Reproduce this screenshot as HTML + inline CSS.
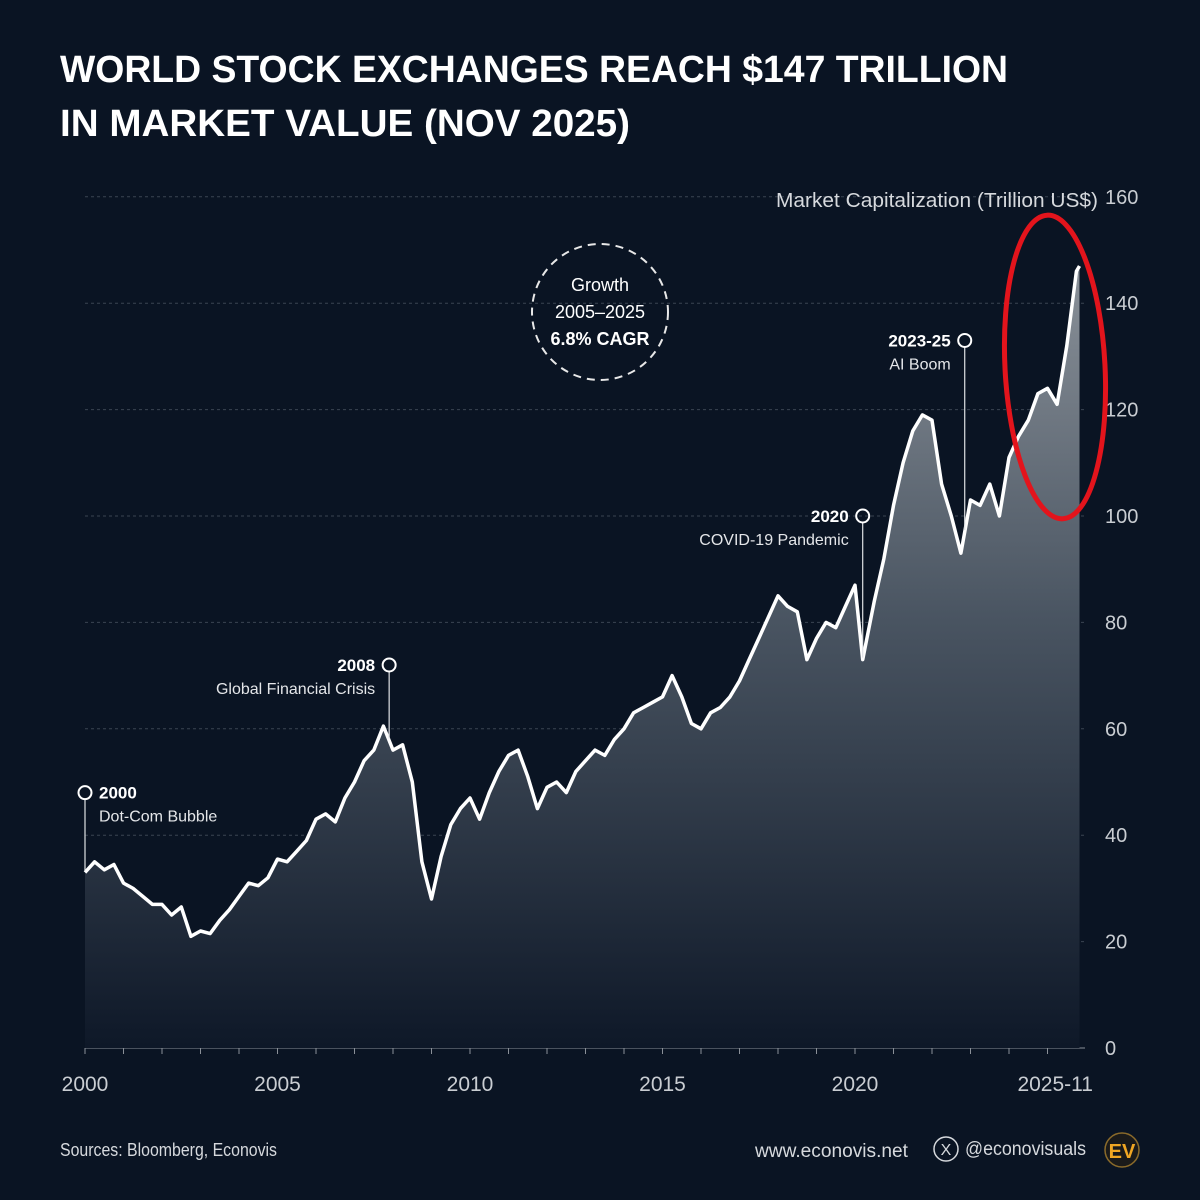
<!DOCTYPE html>
<html><head><meta charset="utf-8"><style>
html,body{margin:0;padding:0;background:#0a1322;}
svg{display:block;font-family:"Liberation Sans",sans-serif;}
</style></head><body>
<svg id="chart" width="1200" height="1200" viewBox="0 0 1200 1200">
<defs>
<linearGradient id="areaGrad" gradientUnits="userSpaceOnUse" x1="0" y1="260" x2="0" y2="1048">
<stop offset="0" stop-color="#8b929a"/>
<stop offset="0.45" stop-color="#4a5562"/>
<stop offset="1" stop-color="#0e1828"/>
</linearGradient>
</defs>
<rect x="0" y="0" width="1200" height="1200" fill="#0a1423"/>
<text x="60" y="82" fill="#ffffff" font-size="38" font-weight="bold" textLength="948" lengthAdjust="spacingAndGlyphs">WORLD STOCK EXCHANGES REACH $147 TRILLION</text>
<text x="60" y="136" fill="#ffffff" font-size="38" font-weight="bold" textLength="570" lengthAdjust="spacingAndGlyphs">IN MARKET VALUE (NOV 2025)</text>
<g id="grid"></g>
<g id="area"></g>
<g id="annot"></g>
<text x="1098" y="207" fill="#d6d9dd" font-size="20" text-anchor="end" textLength="322" lengthAdjust="spacingAndGlyphs">Market Capitalization (Trillion US$)</text>
<g>
<circle cx="600" cy="312" r="68" fill="none" stroke="#e8e8e8" stroke-width="2" stroke-dasharray="8 6"/>
<text x="600" y="291" fill="#fff" font-size="18" text-anchor="middle">Growth</text>
<text x="600" y="318" fill="#fff" font-size="18" text-anchor="middle">2005–2025</text>
<text x="600" y="345" fill="#fff" font-size="18" font-weight="bold" text-anchor="middle">6.8% CAGR</text>
</g>
<ellipse cx="1055" cy="367" rx="50" ry="152" fill="none" stroke="#e3141c" stroke-width="5" transform="rotate(-3 1055 367)"/>
<text x="60" y="1156" fill="#d6d9dd" font-size="18" textLength="217" lengthAdjust="spacingAndGlyphs">Sources: Bloomberg, Econovis</text>
<text x="755" y="1157" fill="#d6d9dd" font-size="19" textLength="153" lengthAdjust="spacingAndGlyphs">www.econovis.net</text>
<g>
<circle cx="946" cy="1149" r="12" fill="none" stroke="#d6d9dd" stroke-width="1.5"/>
<text x="946" y="1155" fill="#d6d9dd" font-size="16" text-anchor="middle">X</text>
</g>
<text x="965" y="1155" fill="#d6d9dd" font-size="19" textLength="121" lengthAdjust="spacingAndGlyphs">@econovisuals</text>
<g>
<circle cx="1122" cy="1150" r="17" fill="#1a1a1a" stroke="#8a6a2a" stroke-width="1.5"/>
<text x="1122" y="1158" fill="#f0a623" font-size="20" font-weight="bold" text-anchor="middle">EV</text>
</g>
</svg>
<script>
const years = [2000,2000.25,2000.5,2000.75,2001,2001.25,2001.5,2001.75,2002,2002.25,2002.5,2002.75,2003,2003.25,2003.5,2003.75,2004,2004.25,2004.5,2004.75,2005,2005.25,2005.5,2005.75,2006,2006.25,2006.5,2006.75,2007,2007.25,2007.5,2007.75,2008,2008.25,2008.5,2008.75,2009,2009.25,2009.5,2009.75,2010,2010.25,2010.5,2010.75,2011,2011.25,2011.5,2011.75,2012,2012.25,2012.5,2012.75,2013,2013.25,2013.5,2013.75,2014,2014.25,2014.5,2014.75,2015,2015.25,2015.5,2015.75,2016,2016.25,2016.5,2016.75,2017,2017.25,2017.5,2017.75,2018,2018.25,2018.5,2018.75,2019,2019.25,2019.5,2019.75,2020,2020.2,2020.5,2020.75,2021,2021.25,2021.5,2021.75,2022,2022.25,2022.5,2022.75,2023,2023.25,2023.5,2023.75,2024,2024.25,2024.5,2024.75,2025,2025.25,2025.5,2025.75,2025.83];
const values = [33,35,33.5,34.5,31,30,28.5,27,27,25,26.5,21,22,21.5,24,26,28.5,31,30.5,32,35.5,35,37,39,43,44,42.5,47,50,54,56,60.5,56,57,50,35,28,36,42,45,47,43,48,52,55,56,51,45,49,50,48,52,54,56,55,58,60,63,64,65,66,70,66,61,60,63,64,66,69,73,77,81,85,83,82,73,77,80,79,83,87,73,84,92,102,110,116,119,118,106,100,93,103,102,106,100,111,115,118,123,124,121,132,146,147];
const yTicks = [0,20,40,60,80,100,120,140,160];
const xTickLabels = ["2000","2005","2010","2015","2020","2025-11"];
const xTickYears = [2000,2005,2010,2015,2020,2025.2];
const annYears = [2000,2007.9,2020.2,2022.85];
const annTitles = ["2000","2008","2020","2023-25"];
const annSubs = ["Dot-Com Bubble","Global Financial Crisis","COVID-19 Pandemic","AI Boom"];
const annLevels = [48,72,100,133];

const NS="http://www.w3.org/2000/svg";
const X = y => 85 + (y-2000)*38.5;
const Y = v => 1048 - v*5.32;
function mk(tag, attrs, parent){const e=document.createElementNS(NS,tag);for(const k in attrs)e.setAttribute(k,attrs[k]);parent.appendChild(e);return e;}
const grid=document.getElementById('grid'), area=document.getElementById('area'), annot=document.getElementById('annot');
yTicks.forEach(t=>{
  const l=mk('line',{x1:85,x2:1085,y1:Y(t),y2:Y(t),stroke:t===0?'#8a9098':'#3a4452','stroke-width':1,'stroke-dasharray':t===0?'':'3 3'},grid);
  
  
  const tx=mk('text',{x:1105,y:Y(t)+7,fill:'#c9cdd2','font-size':20},grid);
  tx.textContent=t;
  
  
});
for(let yr=2000; yr<=2025; yr++){
  const tk=mk('line',{x1:X(yr),x2:X(yr),y1:1048,y2:1054,stroke:'#8a9098','stroke-width':1},grid);
  
  
}
xTickLabels.forEach((s,i)=>{
  const tx=mk('text',{x:X(xTickYears[i]),y:1091,fill:'#c9cdd2','font-size':21,'text-anchor':'middle'},grid);
  tx.textContent=s;
  
  
});
let d='', a='';
years.forEach((yr,i)=>{d+=(i?'L':'M')+X(yr).toFixed(1)+' '+Y(values[i]).toFixed(1);});
a=d+'L'+X(years[years.length-1]).toFixed(1)+' 1048 L'+X(years[0])+' 1048 Z';
const fill=mk('path',{d:a,fill:'url(#areaGrad)'},area);


const line=mk('path',{d:d,fill:'none',stroke:'#ffffff','stroke-width':3.5,'stroke-linejoin':'round'},area);


function valAt(yr){for(let i=1;i<years.length;i++){if(years[i]>=yr){const t=(yr-years[i-1])/(years[i]-years[i-1]);return values[i-1]+t*(values[i]-values[i-1]);}}return values[values.length-1];}
annYears.forEach((yr,i)=>{
  const cx=X(yr), cy=Y(annLevels[i]);
  const g=mk('g',{},annot);
  
  
  mk('line',{x1:cx,x2:cx,y1:cy+7,y2:Y(valAt(yr))-2,stroke:'#dfe2e5','stroke-width':1.2},g);
  mk('circle',{cx:cx,cy:cy,r:6.5,fill:'none',stroke:'#ffffff','stroke-width':2},g);
  const left=i===0;
  const t1=mk('text',{x:left?cx+14:cx-14,y:cy+6,fill:'#fff','font-size':17,'font-weight':'bold','text-anchor':left?'start':'end'},g);
  t1.textContent=annTitles[i];
  const t2=mk('text',{x:left?cx+14:cx-14,y:cy+29,fill:'#e4e6e9','font-size':16,'text-anchor':left?'start':'end'},g);
  t2.textContent=annSubs[i];
});
</script>
</body></html>
